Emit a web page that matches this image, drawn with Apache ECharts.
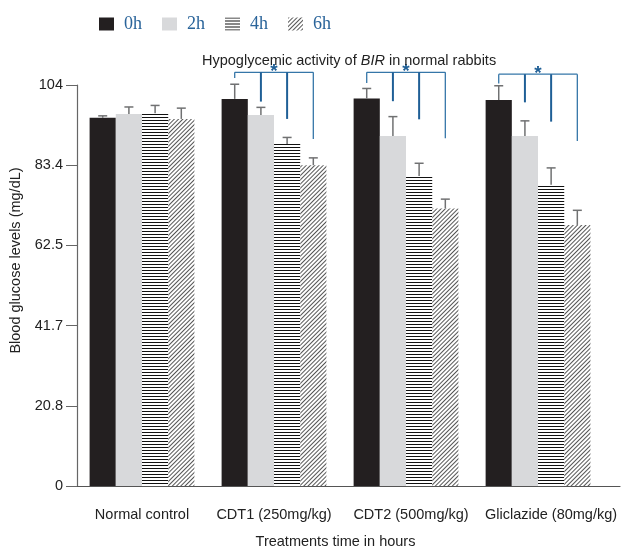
<!DOCTYPE html>
<html>
<head>
<meta charset="utf-8">
<title>Hypoglycemic activity of BIR</title>
<script src="https://cdn.jsdelivr.net/npm/echarts@6/dist/echarts.min.js"></script>
<style>
  html, body { margin: 0; padding: 0; background: #fff; }
  #chart { width: 621px; height: 548px; }
</style>
</head>
<body>
<div id="chart"></div>
<script>
// categories (x positions 0..3) and tick labels
const categories = ['Normal control', 'CDT1 (250mg/kg)', 'CDT2 (500mg/kg)', 'Gliclazide (80mg/kg)']
const seriesNames = ['0h', '2h', '4h', '6h']
const yTickLabels = ['0', '20.8', '41.7', '62.5', '83.4', '104']

// mean blood glucose per time point
const mean0h = [95.5, 100.4, 100.5, 100.1]
const mean2h = [96.5, 96.2, 90.8, 90.8]
const mean4h = [96.7, 88.7, 80.4, 78.1]
const mean6h = [95.2, 83.2, 72.0, 67.7]

// error (upper whisker length)
const err0h = [0.5, 3.8, 2.6, 3.7]
const err2h = [1.8, 2.0, 5.0, 3.9]
const err4h = [2.0, 1.7, 3.3, 4.4]
const err6h = [2.8, 1.9, 2.4, 3.8]

// significance brackets: group index, top level, drop ends per bar
const bracketGroups = [1, 2, 3]
const bracketTop = [107.3, 107.3, 106.8]
const bracketEnds = [
  [105.8, 99.7, 95.2, 90.0],
  [104.5, 99.8, 95.1, 90.2],
  [104.4, 99.5, 94.5, 89.5]
]

const means = [mean0h, mean2h, mean4h, mean6h]
const errs = [err0h, err2h, err4h, err6h]

const BAR_W = 26.2
const FONT = 'Liberation Sans, Arial, sans-serif'
const BLUE = '#1f5f96'
// small nudges of the category labels, as in the original figure
const LABEL_PAD = [0, 0, 10, 26]

const barStyles = [
  { color: '#231f20' },
  { color: '#d8d9db' },
  {
    color: '#fff',
    decal: {
      symbol: 'rect', symbolSize: 1,
      dashArrayX: [[1, 0]], dashArrayY: [1, 2],
      rotation: 0, color: '#111'
    }
  },
  {
    color: '#fff',
    decal: {
      symbol: 'rect', symbolSize: 1,
      dashArrayX: [[1, 0]], dashArrayY: [1, 1.3],
      rotation: -Math.PI / 4, color: '#555'
    }
  }
]

const chart = echarts.init(document.getElementById('chart'))

const barSeries = seriesNames.map((name, k) => ({
  name: name,
  type: 'bar',
  barWidth: BAR_W,
  barGap: '0%',
  data: means[k].map((v, g) => [g, v]),
  itemStyle: barStyles[k],
  z: 2
}))

// error bars
const errData = []
means.forEach((arr, k) => {
  arr.forEach((v, g) => errData.push([g, k, v, errs[k][g]]))
})

const errSeries = {
  type: 'custom',
  data: errData,
  encode: { x: 0, y: 2 },
  z: 5,
  renderItem: (params, api) => {
    const g = api.value(0)
    const k = api.value(1)
    const m = api.value(2)
    const e = api.value(3)
    const base = api.coord([g, m])
    const top = api.coord([g, m + e])
    const x = base[0] + (k - 1.5) * BAR_W
    const style = { stroke: '#707172', lineWidth: 1.5 }
    return {
      type: 'group',
      children: [
        { type: 'line', shape: { x1: x, y1: base[1], x2: x, y2: top[1] }, style },
        { type: 'line', shape: { x1: x - 4.5, y1: top[1], x2: x + 4.5, y2: top[1] }, style }
      ]
    }
  }
}

// significance brackets
const bracketData = bracketGroups.map((g, i) => [g, bracketTop[i]].concat(bracketEnds[i]))

const bracketSeries = {
  type: 'custom',
  data: bracketData,
  encode: { x: 0, y: 1 },
  clip: false,
  z: 6,
  renderItem: (params, api) => {
    const g = api.value(0)
    const p = api.coord([g, api.value(1)])
    const cx = p[0]
    const yTop = p[1]
    const children = [{
      type: 'line',
      shape: { x1: cx - 1.5 * BAR_W, y1: yTop, x2: cx + 1.5 * BAR_W, y2: yTop },
      style: { stroke: '#3576a8', lineWidth: 1.3 }
    }]
    for (let k = 0; k < 4; k++) {
      const x = cx + (k - 1.5) * BAR_W
      const yEnd = api.coord([g, api.value(2 + k)])[1]
      const inner = k === 1 || k === 2
      children.push({
        type: 'line',
        shape: { x1: x, y1: yTop, x2: x, y2: yEnd },
        style: { stroke: inner ? BLUE : '#3576a8', lineWidth: inner ? 2 : 1.3 }
      })
    }
    children.push({
      type: 'text',
      style: {
        text: '*', x: cx, y: yTop - 10,
        fill: BLUE, font: 'bold 19px ' + FONT,
        align: 'center', verticalAlign: 'top'
      }
    })
    return { type: 'group', children }
  }
}

const labelRich = {}
LABEL_PAD.forEach((pad, i) => {
  labelRich['c' + i] = { fontFamily: FONT, fontSize: 14.5, color: '#222', padding: [0, 0, 0, pad] }
})

const option = {
  animation: false,
  title: {
    text: '{n|Hypoglycemic activity of }{i|BIR}{n| in normal rabbits}',
    left: 197,
    top: 48,
    textStyle: {
      rich: {
        n: { fontFamily: FONT, fontSize: 14.5, fontWeight: 'normal', color: '#222' },
        i: { fontFamily: FONT, fontSize: 14.5, fontWeight: 'normal', color: '#222', fontStyle: 'italic' }
      }
    }
  },
  legend: {
    data: seriesNames,
    icon: 'rect',
    left: 99,
    top: 15,
    padding: 0,
    itemWidth: 15,
    itemHeight: 13,
    itemGap: 20,
    textStyle: {
      fontFamily: 'Liberation Serif, Times New Roman, serif',
      fontSize: 18,
      color: '#2a649a',
      padding: [0, 0, 0, 5]
    }
  },
  grid: { left: 77, right: 1, top: 85, bottom: 62, outerBoundsMode: 'none' },
  xAxis: {
    type: 'value',
    min: -0.4924,
    max: 3.621,
    name: 'Treatments time in hours',
    nameLocation: 'middle',
    nameGap: 48,
    nameTextStyle: { fontFamily: FONT, fontSize: 14.5, color: '#222', padding: [0, 26, 0, 0] },
    axisLine: { onZero: false, lineStyle: { color: '#555', width: 1.2 } },
    axisTick: { show: false },
    splitLine: { show: false },
    axisLabel: {
      customValues: [0, 1, 2, 3],
      formatter: v => {
        const i = Math.round(v)
        return '{c' + i + '|' + categories[i] + '}'
      },
      rich: labelRich,
      margin: 21,
      fontFamily: FONT,
      fontSize: 14.5,
      color: '#222'
    }
  },
  yAxis: {
    type: 'value',
    min: 0,
    max: 104,
    interval: 20.8,
    name: 'Blood glucose levels (mg/dL)',
    nameLocation: 'middle',
    nameGap: 50,
    nameTextStyle: { fontFamily: FONT, fontSize: 14.5, color: '#222', padding: [0, 0, 0, 50] },
    axisLine: { show: true, onZero: false, lineStyle: { color: '#666', width: 1.2 } },
    axisTick: { show: true, length: 11, lineStyle: { color: '#666' } },
    splitLine: { show: false },
    axisLabel: {
      formatter: v => yTickLabels[Math.round(v / 20.8)],
      margin: 14,
      fontFamily: FONT,
      fontSize: 14.5,
      color: '#222'
    }
  },
  series: barSeries.concat([errSeries, bracketSeries])
}

chart.setOption(option)
</script>
</body>
</html>
